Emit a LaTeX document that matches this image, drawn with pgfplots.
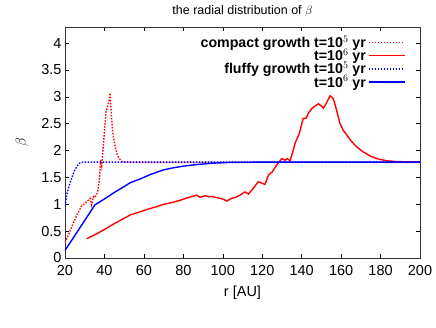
\documentclass[border=0pt]{standalone}
\usepackage{pgfplots}
\pgfplotsset{compat=1.18}
\usepackage{fontspec}
\setmainfont{Liberation Sans}
\pgfplotsset{longlegend/.style={legend image code/.code={\draw[##1] (0pt,0pt) -- (36pt,0pt);}}}
\begin{document}
\begin{tikzpicture}
\useasboundingbox (-65pt,-69pt) rectangle (371pt,258pt);
\begin{axis}[
  scale only axis, width=355pt, height=231pt,
  xmin=20, xmax=200, ymin=0, ymax=4.3,
  xtick={20,40,...,200}, ytick={0,0.5,...,4},
  yticklabel style={/pgf/number format/fixed},
  /pgf/number format/assume math mode=true,
  tick align=inside, major tick length=4pt,
  tick style={black, line width=0.5pt},
  axis line style={black!80, line width=0.6pt},
  ticklabel style={font=\fontsize{14.5}{16}\selectfont},
  xticklabel style={yshift=-4pt},
  title={the radial distribution of $\beta$},
  title style={font=\fontsize{12.5}{14}\selectfont, yshift=1pt},
  xlabel={r [AU]}, ylabel={$\beta$},
  label style={font=\fontsize{14.5}{16}\selectfont},
  xlabel style={yshift=-3pt},
  ylabel style={yshift=6pt},
  legend style={draw=none, fill=none, at={(0.962,0.975)}, anchor=north east,
    font=\bfseries\fontsize{14.2}{13}\selectfont, row sep=-4pt, legend cell align=right,
    inner sep=1pt},
  legend plot pos=right,
  longlegend,
]
\addplot[red, line width=1.4pt, dash pattern=on 1.5pt off 1.5pt] coordinates {
(20,0.29) (22,0.45) (24.2,0.65) (26,0.8) (28.4,0.97) (30,1.01) (31,1.05) (32,1.08) (32.7,1.11) (33.5,0.99) (34.4,1.14) (35,1.12) (36.1,1.19) (36.8,1.28) (37.4,1.45) (38.1,1.82) (38.6,1.72) (39.4,2.07) (40.1,2.4) (40.8,2.72) (41.4,2.8) (42,2.88) (42.4,2.95) (42.8,3.07) (43.2,2.85) (43.7,2.57) (44.2,2.35) (44.8,2.2) (45.6,2.05) (46.5,1.92) (47.5,1.85) (48.7,1.80) (50,1.785) (60,1.78) (80,1.78) (100,1.78) (140,1.78) (200,1.78)};
\addlegendentry{compact growth t=10$^{5}$ yr}
\addplot[red, line width=1.4pt] coordinates {
(31,0.36) (35,0.43) (40,0.53) (44.5,0.63) (48,0.70) (53,0.80) (58,0.86) (63,0.92) (66,0.95) (70,1.0) (74,1.03) (78,1.07) (82,1.12) (86.8,1.17) (88.5,1.13) (91,1.16) (93,1.14) (95.2,1.14) (98.6,1.11) (100.5,1.09) (102,1.06) (104.5,1.11) (106.5,1.13) (108.7,1.17) (111.3,1.23) (113,1.19) (115.5,1.3) (118,1.42) (121.4,1.37) (123.1,1.54) (125,1.6) (127.3,1.73) (129.9,1.85) (131.6,1.82) (132.7,1.85) (134.1,1.81) (135.3,1.95) (136.6,2.13) (138.8,2.32) (140.8,2.6) (142.2,2.6) (143.5,2.7) (145.1,2.78) (146.8,2.83) (148.5,2.87) (150,2.83) (151,2.79) (152.5,2.88) (154.4,3.02) (156,2.97) (157.5,2.78) (159.4,2.51) (161,2.38) (162.9,2.29) (165,2.18) (167.9,2.07) (171,1.98) (174.7,1.90) (178,1.85) (183.1,1.81) (188,1.795) (200,1.785)};
\addlegendentry{t=10$^{6}$ yr}
\addplot[blue, line width=1.4pt, dash pattern=on 1.5pt off 1.5pt] coordinates {
(20,0.97) (21,1.2) (22.5,1.39) (24,1.55) (25,1.64) (26.3,1.72) (27.6,1.77) (29,1.785) (40,1.785) (100,1.785) (200,1.785)};
\addlegendentry{fluffy growth t=10$^{5}$ yr}
\addplot[blue, line width=1.4pt] coordinates {
(20,0.14) (25,0.42) (30,0.70) (35.2,0.99) (40,1.1) (45,1.22) (50,1.33) (53,1.40) (58,1.47) (63,1.55) (69.9,1.64) (75,1.68) (80,1.71) (86.8,1.74) (95,1.765) (103.7,1.78) (120,1.785) (200,1.785)};
\addlegendentry{t=10$^{6}$ yr}
\end{axis}
\end{tikzpicture}
\end{document}
